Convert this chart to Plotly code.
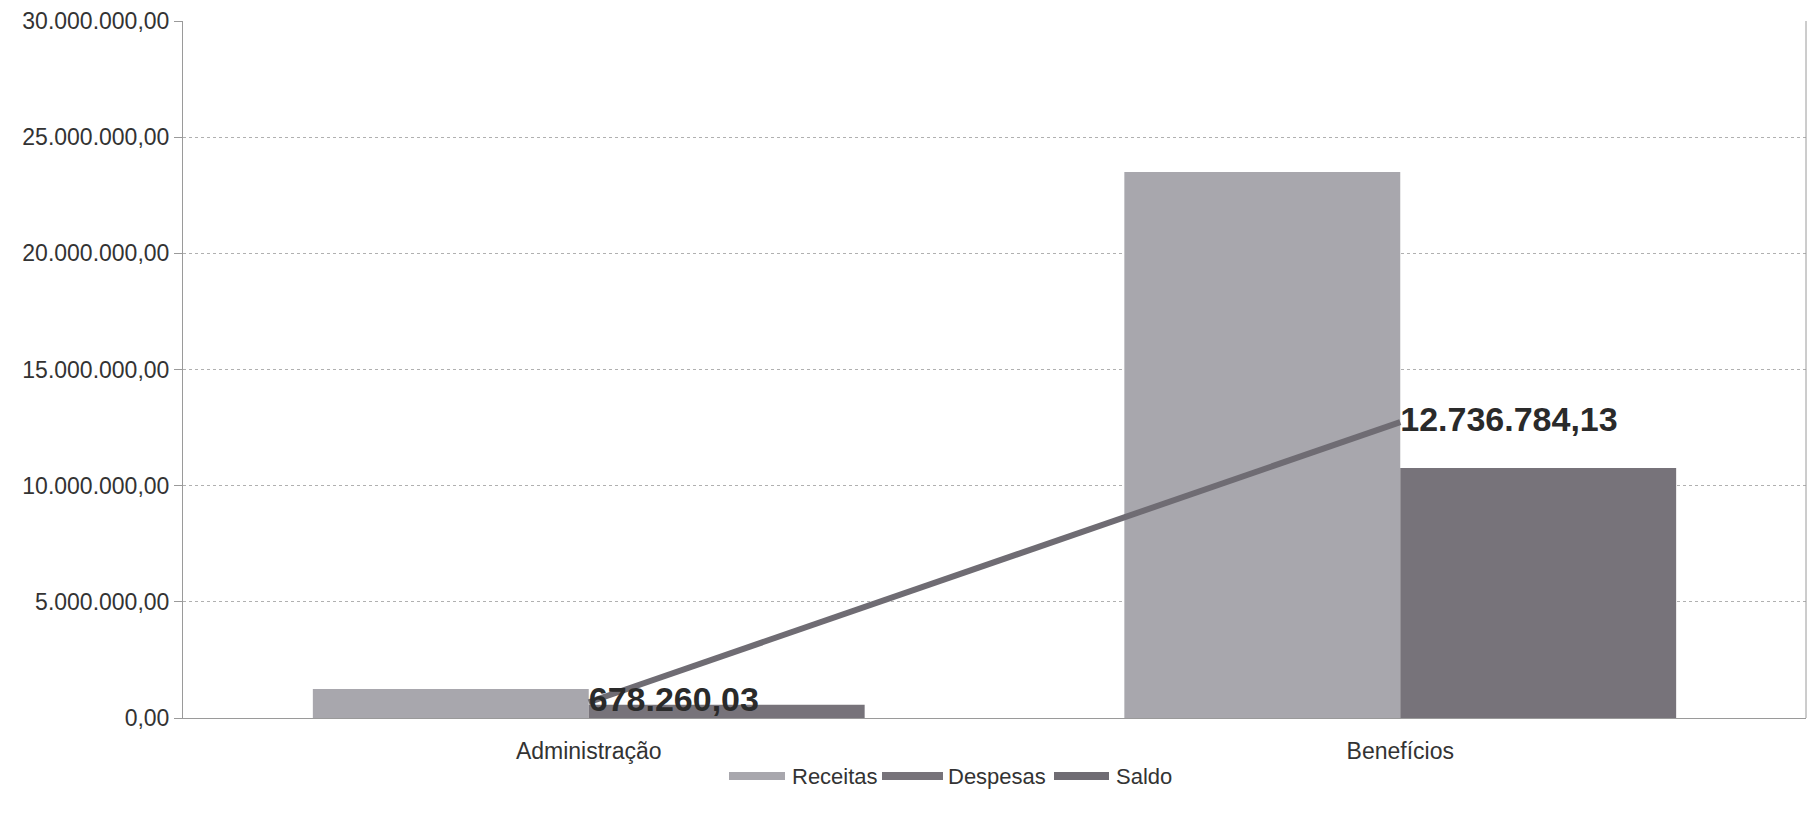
import plotly.graph_objects as go

categories = ["Administração", "Benefícios"]
receitas = [1250000.00, 23500000.00]
despesas = [571739.97, 10763215.87]
saldo = [678260.03, 12736784.13]
y_ticks = [0, 5000000, 10000000, 15000000, 20000000, 25000000, 30000000]
series_names = ["Receitas", "Despesas", "Saldo"]
series_colors = ["#a8a7ad", "#77737a", "#6f6c73"]

FONT = "Liberation Sans, Arial, sans-serif"
OFF = 8  # page body margin
L, R, T, B, W, H = 175, 18, 13, 109, 1816, 819

fig = go.Figure()
fig.add_trace(go.Bar(name=series_names[0], x=categories, y=receitas,
                     marker=dict(color=series_colors[0], line=dict(width=0))))
fig.add_trace(go.Bar(name=series_names[1], x=categories, y=despesas,
                     marker=dict(color=series_colors[1], line=dict(width=0))))
fig.add_trace(go.Scatter(name=series_names[2], x=categories, y=saldo, mode="lines+text",
                         line=dict(color=series_colors[2], width=6),
                         text=saldo, texttemplate="%{y:,.2f}",
                         textposition="middle right",
                         textfont=dict(family=FONT, size=34, color="#2a2a2a", weight="bold")))

# custom legend with wide swatches (below the plot); positions in page pixels
pw = W - L - R
ph = H - T - B
def px_x(p):
    return (p - OFF - L) / pw
def px_y(p):
    return (H - B - (p - OFF)) / ph
legend_swatches = [(729, 785), (882, 943), (1054, 1109)]
legend_text_x = [790, 946, 1114]
leg_y = 776
shapes = [dict(type="line", xref="paper", yref="paper", x0=1, x1=1, y0=0, y1=1,
               line=dict(color="#9a9a9a", width=1))]
annotations = []
for (x0, x1), tx, name, col in zip(legend_swatches, legend_text_x, series_names, series_colors):
    shapes.append(dict(type="rect", xref="paper", yref="paper",
                       x0=px_x(x0), x1=px_x(x1), y0=px_y(leg_y + 4), y1=px_y(leg_y - 4),
                       fillcolor=col, line=dict(width=0)))
    annotations.append(dict(text=name, xref="paper", yref="paper", x=px_x(tx), y=px_y(leg_y),
                            xanchor="left", yanchor="middle", showarrow=False,
                            font=dict(family=FONT, size=22, color="#333333")))

fig.update_layout(
    width=W, height=H,
    margin=dict(l=L, r=R, t=T, b=B, autoexpand=False),
    paper_bgcolor="white", plot_bgcolor="white",
    barmode="group", bargap=0.32, bargroupgap=0,
    separators=",.",
    font=dict(family=FONT, size=18, color="#333333"),
    showlegend=False,
    shapes=shapes, annotations=annotations,
)
fig.update_yaxes(range=[0, 30000000], tickvals=y_ticks, tickformat=",.2f",
                 showgrid=True, gridcolor="#b0b0b0", gridwidth=1, griddash="dot",
                 showline=True, linecolor="#9a9a9a", linewidth=1,
                 ticks="outside", ticklen=8, tickcolor="#9a9a9a",
                 tickfont=dict(family=FONT, size=23, color="#333333"),
                 zeroline=False, automargin=False)
fig.update_xaxes(showline=True, linecolor="#9a9a9a", linewidth=1,
                 ticks="", tickfont=dict(family=FONT, size=23, color="#333333"),
                 ticklabelstandoff=12, automargin=False)

fig.write_html("out.html")
